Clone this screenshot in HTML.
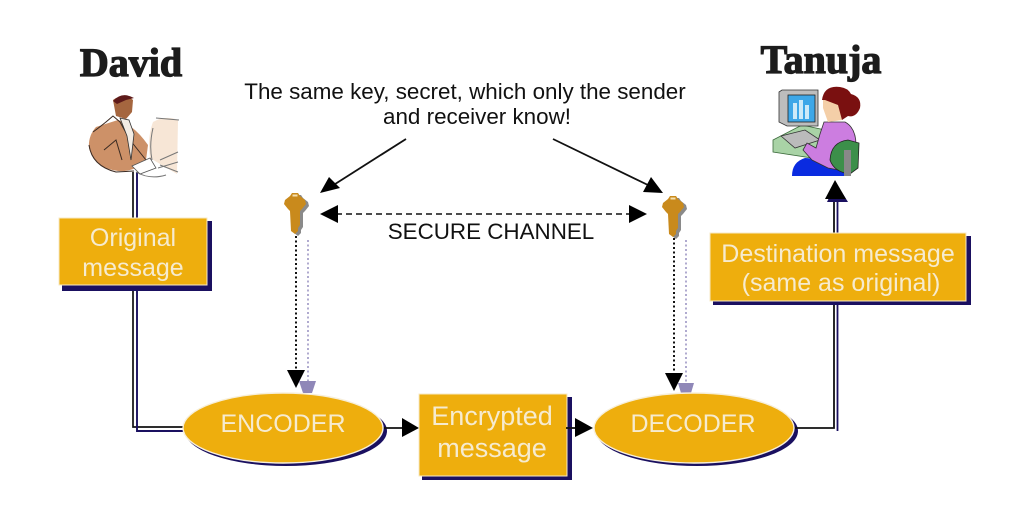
<!DOCTYPE html>
<html><head><meta charset="utf-8"><style>
html,body{margin:0;padding:0;background:#fff;width:1024px;height:512px;overflow:hidden}
svg{display:block}
text{font-family:"Liberation Sans",sans-serif}
.w{fill:#f6ebcf;font-size:25px;text-anchor:middle}
.b{fill:#111;font-size:22.4px;text-anchor:middle}
.t{font-family:"Liberation Serif",serif;font-weight:bold;font-size:40px;fill:#1c1c1c;stroke:#1c1c1c;stroke-width:1.3px;text-anchor:middle}
</style></head><body>
<svg width="1024" height="512" viewBox="0 0 1024 512" xmlns="http://www.w3.org/2000/svg">
<defs>
<g id="key">
<path d="M-3 -20 L3 -20 L5 -17 L10 -13 L11 -9 L7 -4 L5 -2 L5 12 L3 15 L3 18 L0 21 L-4 18 L-5 -2 L-7 -4 L-11 -9 L-10 -13 L-5 -17 Z" fill="#8a8a8a" transform="translate(3,2)"/>
<path d="M-3 -20 L3 -20 L5 -17 L10 -13 L11 -9 L7 -4 L5 -2 L5 12 L3 15 L3 18 L0 21 L-4 18 L-5 -2 L-7 -4 L-11 -9 L-10 -13 L-5 -17 Z" fill="#c98a1c"/>
<rect x="-2.5" y="-18.5" width="5" height="2" fill="#f5e0b0"/>
</g>
</defs>

<!-- connectors left -->
<path d="M133 172V427H186" fill="none" stroke="#111" stroke-width="1.7"/>
<path d="M137 172V431H186" fill="none" stroke="#1a1060" stroke-width="1.9"/>

<!-- David title & figure -->
<text class="t" x="131" y="76">David</text>
<g>
<path d="M96 127 Q88 136 89 148 Q94 168 118 171 Q136 172 146 160 L148 145 Q134 125 118 120 Z" fill="#cd9168"/>
<path d="M93 132 Q104 124 113 116 L120 122 L130 140 L146 160 M89 145 Q92 166 116 172 L134 171 M104 150 L116 140 L122 160" fill="none" stroke="#3a2a22" stroke-width="1"/>
<path d="M113 100 Q124 92 133 100 L132 112 L126 119 L116 116 Z" fill="#a5663f"/>
<path d="M113 101 Q122 91 134 98 L126 100 L117 104 Z" fill="#5e1a1a"/>
<path d="M120 118 L127 136 L131 160 L134 134 L129 120 Z" fill="#f3ece4" stroke="#333" stroke-width=".8"/>
<path d="M153 122 Q147 138 150 158 L177 174 L178 120 Q165 115 153 122 Z" fill="#f7e6d6"/>
<path d="M156 118 L179 120 M153 128 Q149 145 152 160 M178 152 L160 160 M136 172 Q150 180 166 175 M160 165 L178 172 M158 168 L178 162" fill="none" stroke="#777" stroke-width="1"/>
<path d="M132 166 L150 158 L156 168 L140 174 Z" fill="#fff" stroke="#555" stroke-width=".8"/>
</g>

<!-- Original message box -->
<rect x="62" y="221" width="150" height="70" fill="#1a1060"/>
<rect x="59" y="218" width="148" height="67" fill="#eeae0d" stroke="#f7e9c6" stroke-width="1"/>
<text class="w" x="133" y="246">Original</text>
<text class="w" x="133" y="276">message</text>

<!-- top text -->
<text class="b" x="465" y="99">The same key, secret, which only the sender</text>
<text class="b" x="477" y="124">and receiver know!</text>
<path d="M406 139L332 186" stroke="#111" stroke-width="1.8"/>
<path d="M320 193L329 177L340 188Z" fill="#000"/>
<path d="M553 139L650 186" stroke="#111" stroke-width="1.8"/>
<path d="M663 193L643 192L651 177Z" fill="#000"/>

<!-- keys -->
<use href="#key" x="295" y="213"/>
<use href="#key" x="673" y="216"/>

<!-- secure channel -->
<path d="M336 214H630" stroke="#111" stroke-width="1.6" stroke-dasharray="6 4"/>
<path d="M320 214L338 205V223Z" fill="#000"/>
<path d="M647 214L629 205V223Z" fill="#000"/>
<text class="b" x="491" y="239">SECURE CHANNEL</text>

<!-- dotted down arrows -->
<path d="M296 236V375" stroke="#111" stroke-width="2" stroke-dasharray="2 2.5"/>
<path d="M308 240V382" stroke="#8f87bb" stroke-width="1.4" stroke-dasharray="2 2.5"/>
<path d="M287 370H305L296 388Z" fill="#000"/>
<path d="M299 381H316L312 393H303Z" fill="#8f87b8"/>
<path d="M674 238V375" stroke="#111" stroke-width="2" stroke-dasharray="2 2.5"/>
<path d="M686 240V382" stroke="#8f87bb" stroke-width="1.4" stroke-dasharray="2 2.5"/>
<path d="M665 373H683L674 391Z" fill="#000"/>
<path d="M678 383H694L691 393H681Z" fill="#8f87b8"/>

<!-- encoder -->
<ellipse cx="286" cy="431" rx="101" ry="35" fill="#1a1060"/>
<ellipse cx="283" cy="428" rx="100" ry="35" fill="#eeae0d" stroke="#f7efda" stroke-width="1.4"/>
<text class="w" x="283" y="432">ENCODER</text>

<!-- encoder arrow -->
<path d="M384 428H405" stroke="#111" stroke-width="1.8"/>
<path d="M419 428L402 418V437Z" fill="#000"/>

<!-- encrypted box -->
<rect x="422" y="397" width="150" height="83" fill="#1a1060"/>
<rect x="419" y="394" width="148" height="82" fill="#eeae0d" stroke="#f7e9c6" stroke-width="1"/>
<text class="w" x="492" y="425" style="font-size:27px">Encrypted</text>
<text class="w" x="492" y="457" style="font-size:27px">message</text>

<!-- arrow to decoder -->
<path d="M566 428H580" stroke="#111" stroke-width="1.8"/>
<path d="M593 428L575 418V437Z" fill="#000"/>

<!-- decoder -->
<ellipse cx="697" cy="431" rx="101" ry="35" fill="#1a1060"/>
<ellipse cx="694" cy="428" rx="100" ry="35" fill="#eeae0d" stroke="#f7efda" stroke-width="1.4"/>
<text class="w" x="693" y="432">DECODER</text>

<!-- right connector -->
<path d="M795 428H834V198" fill="none" stroke="#111" stroke-width="1.8"/>
<path d="M837.5 431V198" fill="none" stroke="#1a1060" stroke-width="1.8"/>
<path d="M836 183L827 202H848Z" fill="#1a1060"/>
<path d="M835 180L825 199H846Z" fill="#000"/>

<!-- destination box -->
<rect x="713" y="236" width="258" height="69" fill="#1a1060"/>
<rect x="710" y="233" width="256" height="68" fill="#eeae0d" stroke="#f7e9c6" stroke-width="1"/>
<text class="w" x="838" y="262">Destination message</text>
<text class="w" x="841" y="291">(same as original)</text>

<!-- Tanuja title & figure -->
<text class="t" x="821" y="73">Tanuja</text>
<g>
<path d="M773 140L802 125L825 130V160L773 152Z" fill="#a9d3a6" stroke="#3c6b3c" stroke-width=".8"/>
<path d="M779 92L782 90H818V126H787L779 122Z" fill="#bdbdbd" stroke="#333" stroke-width=".8"/>
<rect x="788" y="95" width="27" height="27" fill="#3da7e8" stroke="#222" stroke-width=".8"/>
<rect x="793" y="103" width="4" height="16" fill="#cdeaf8"/><rect x="799" y="100" width="4" height="19" fill="#cdeaf8"/><rect x="805" y="105" width="4" height="14" fill="#cdeaf8"/>
<path d="M781 136L805 130L820 140L795 148Z" fill="#bbb" stroke="#333" stroke-width=".8"/>
<path d="M792 176Q792 162 805 158L835 160L846 176Z" fill="#0a2be0"/>
<path d="M824 122L845 122Q856 128 856 145L850 172L828 168L812 160L803 150L807 143L816 148L820 134Z" fill="#cc7de0" stroke="#333" stroke-width=".8"/>
<path d="M823 97L838 100L842 120L828 122L823 108Z" fill="#f4cfa8"/>
<path d="M822 100Q824 85 840 87Q848 88 851 94Q862 97 860 108Q856 118 848 116L842 120L838 105L825 100Z" fill="#7a1010"/>
<path d="M830 160Q831 142 848 140L859 143L858 168L850 174Q834 172 830 160Z" fill="#3c8f4a" stroke="#222" stroke-width=".8"/>
<rect x="844" y="150" width="7" height="26" fill="#888"/>
</g>
</svg>
</body></html>
